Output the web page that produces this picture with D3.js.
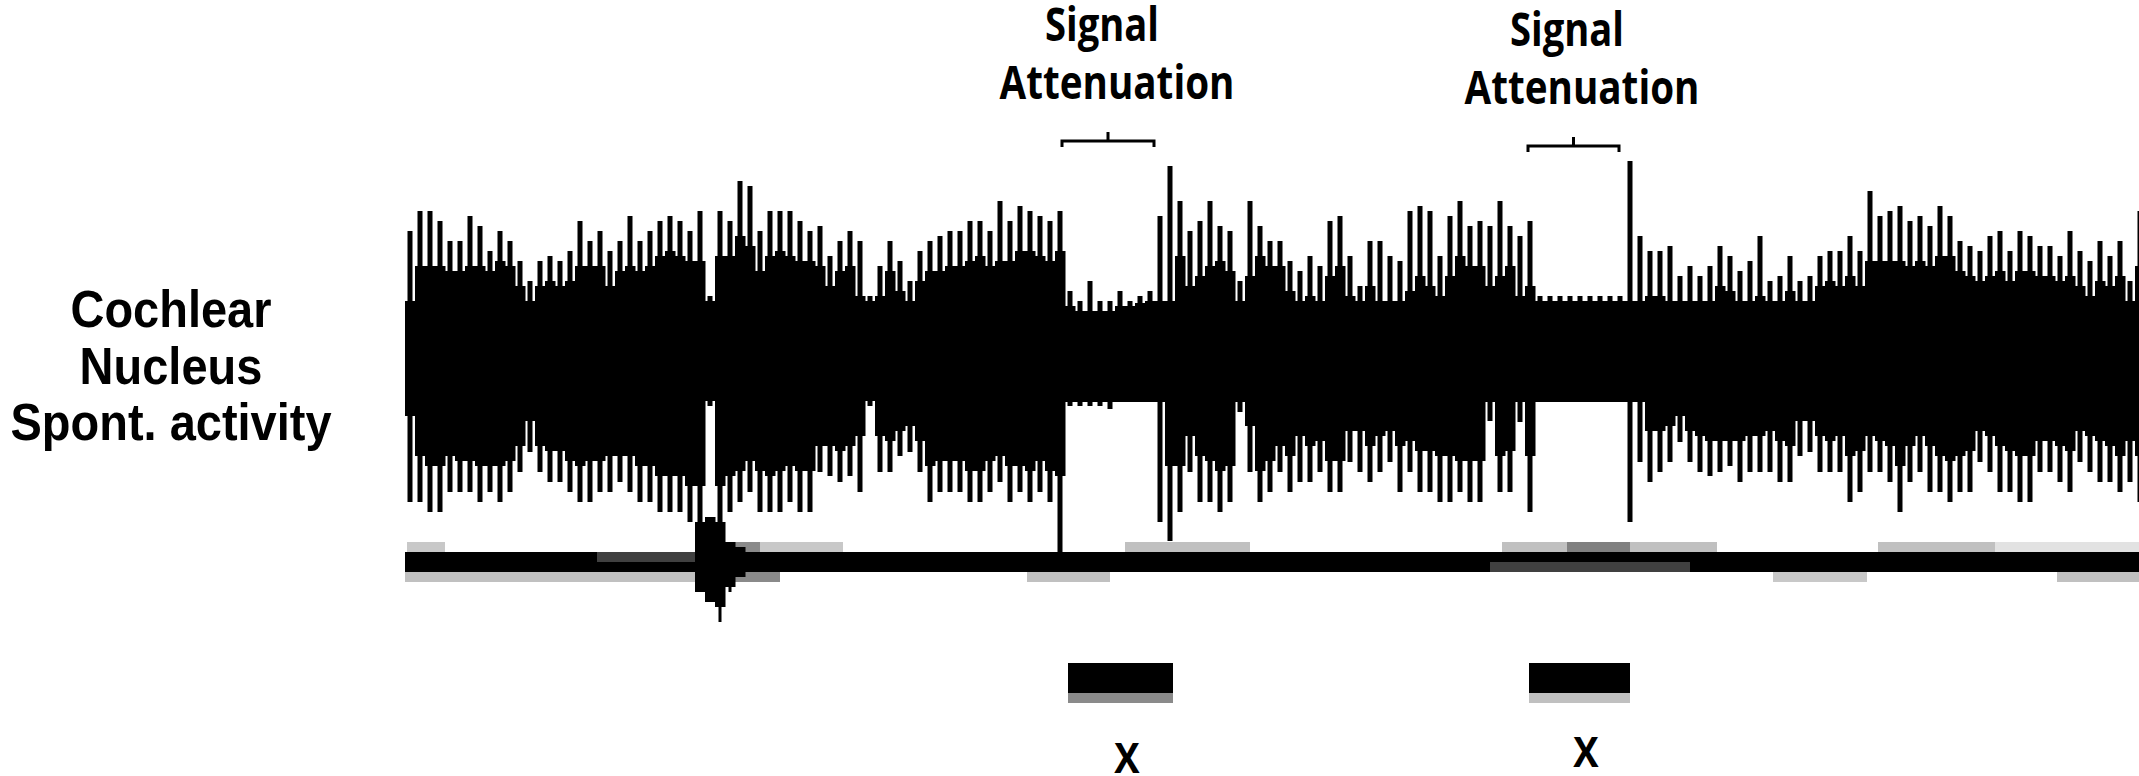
<!DOCTYPE html>
<html>
<head>
<meta charset="utf-8">
<script src="https://cdn.jsdelivr.net/npm/d3@7/dist/d3.min.js"></script>
<style>
body { margin: 0; background: #fff; overflow: hidden; }
</style>
</head>
<body>
<div id="trace"></div>
<script>
// channel 1 envelope, one value per 10px column (amplitude from baseline)
const upPeak = [
120,140,140,130,110,110,135,125,100,120, 110,90,70,90,95,90,100,130,110,120, 100,110,135,110,120,130,135,130,120,140, 55,140,130,170,165,
120,140,140,140,130,120,125,95,110,120, 110,55,85,110,90,70,100,110,115,120, 120,130,130,120,150,130,145,140,135,130, 140,60,50,70,50,
50,60,50,55,60,135,185,150,120,130, 150,125,120,70,150,125,110,110,90,80, 95,85,130,135,95,65,110,110,95,90, 140,145,140,95,135,
150,125,130,125,150,125,115,130,55,55, 55,55,55,55,55,55,55,190,115,100, 100,105,75,85,75,85,105,95,80,90, 115,70,75,95,70,
75,95,100,100,115,100,160,135,140,145, 130,135,125,145,135,110,105,100,115,120, 100,120,115,105,105,95,120,100,90,110, 95,110,70,140
];
const upBody = [
50,85,85,85,80,80,85,85,80,90, 85,65,50,65,70,65,70,85,85,85, 65,80,85,80,85,95,100,95,90,90, 50,95,95,115,105,
80,95,100,95,90,90,85,65,80,85, 55,50,55,80,60,50,70,80,80,85, 85,90,95,85,90,90,100,100,95,90, 100,45,40,40,40,
40,45,45,48,50,50,50,95,65,75, 85,90,80,50,75,95,85,85,60,50, 55,50,75,85,55,50,65,50,50,50, 60,75,65,55,75,
95,85,85,65,75,85,55,65,50,50, 50,50,50,50,50,50,50,50,50,55, 55,50,50,50,50,50,65,60,50,50, 55,50,50,60,50,
50,65,70,65,75,65,90,90,90,90, 85,90,85,95,95,80,75,70,75,80, 70,80,80,75,75,70,75,65,55,70, 65,75,50,85
];
const loBody = [
-65,-105,-115,-115,-105,-110,-110,-115,-115,-115, -110,-95,-70,-95,-100,-100,-110,-115,-110,-110, -105,-105,-105,-115,-115,-125,-125,-125,-135,-135, -50,-135,-125,-120,-110,
-120,-125,-120,-115,-120,-120,-95,-95,-100,-95, -85,-50,-85,-90,-80,-75,-90,-115,-110,-110, -110,-120,-120,-110,-105,-115,-115,-120,-110,-120, -125,-51,-51,-51,-51,
-51,-51,-51,-51,-51,-51,-115,-115,-85,-105, -110,-120,-115,-51,-75,-120,-110,-95,-105,-85, -95,-90,-110,-110,-80,-80,-95,-85,-80,-95, -90,-100,-100,-105,-105,
-110,-110,-110,-51,-105,-100,-51,-105,-51,-51, -51,-51,-51,-51,-51,-51,-51,-51,-51,-80, -80,-75,-65,-80,-85,-90,-90,-90,-90,-85, -85,-80,-90,-95,-70,
-70,-85,-90,-85,-105,-100,-85,-90,-95,-115, -95,-85,-95,-105,-110,-105,-100,-80,-85,-95, -100,-105,-105,-90,-90,-95,-100,-80,-85,-90, -95,-105,-90,-105
];
const loPeak = [
-151,-151,-161,-161,-141,-141,-141,-151,-141,-151, -141,-121,-101,-121,-131,-131,-141,-151,-151,-141, -141,-131,-141,-151,-151,-161,-161,-161,-171,-171, -55,-171,-161,-151,-141,
-161,-161,-161,-151,-161,-161,-121,-125,-131,-125, -141,-55,-121,-121,-105,-101,-121,-151,-141,-141, -141,-151,-151,-141,-131,-151,-141,-151,-141,-151, -201,-55,-55,-55,-55,
-58,-51,-51,-51,-51,-171,-190,-161,-121,-151, -151,-161,-151,-61,-121,-151,-141,-121,-141,-131, -131,-121,-141,-141,-111,-121,-131,-121,-111,-141, -121,-141,-141,-151,-151,
-141,-151,-151,-70,-141,-141,-71,-161,-51,-51, -51,-51,-51,-51,-51,-51,-51,-171,-111,-131, -121,-111,-91,-111,-121,-125,-121,-115,-131,-121, -121,-121,-131,-131,-105,
-101,-121,-121,-121,-151,-141,-121,-121,-131,-161, -131,-121,-141,-141,-151,-141,-141,-111,-121,-141, -141,-151,-151,-121,-121,-131,-141,-111,-121,-131, -131,-141,-131,-151
];

// channel 2: flat band plus one artifact
const ch2Half = 10;
const ch2SpikeIdx = [29, 30, 31, 32, 33];
const ch2SpikeTop = [40, 45, 40, 20, 15];
const ch2SpikeBot = [-30, -40, -45, -25, -15];
const ch2SpikeTail = [-30, -40, -60, -30, -15];

// channel 2 grey smear segments (column units)
const shadeStart = [0.2, 32, 35.5, 72, 109.7, 116.2, 122.5, 147.3, 159, 0, 32, 62.2, 136.8, 165.2, 19.2, 108.5];
const shadeEnd   = [4.0, 35.5, 43.8, 84.5, 116.2, 122.5, 131.2, 159, 174, 29.2, 37.5, 70.5, 146.2, 174, 29.2, 128.5];
const shadeRow   = ['above','above','above','above','above','above','above','above','above','below','below','below','below','below','upper','lower'];
const shadeTone  = ['#c8c8c8','#8a8a8a','#c8c8c8','#c0c0c0','#c0c0c0','#808080','#c0c0c0','#c0c0c0','#e2e2e2','#c0c0c0','#8a8a8a','#c0c0c0','#c8c8c8','#c0c0c0','#404040','#404040'];

// stimulus markers, attenuation brackets and labels (column units)
const stimOn = [66.3, 112.4];
const stimOff = [76.8, 122.5];
const stimShade = ['#8a8a8a', '#c0c0c0'];
const bracketStart = [65.7, 112.3];
const bracketEnd = [74.9, 121.4];
const labelCenter = [71.2, 117.7];
const markCenter = [72.2, 118.1];
const sideLabel = ['Cochlear', 'Nucleus', 'Spont. activity'];

const c_width = 2139;
const c_height = 776;
const calibriLike = '"Open Sans", "Noto Sans", sans-serif';
const arialLike = '"Liberation Sans", Arial, sans-serif';

var svg = d3.select('#trace')
            .append('svg')
            .attr('width', c_width)
            .attr('height', c_height);

var xScale = d3.scaleLinear()
        .domain([0, upPeak.length])
        .range([405, 405 + 10 * upPeak.length]);
var y1 = d3.scaleLinear().domain([-200, 200]).range([551, 151]);
var y2 = d3.scaleLinear().domain([-50, 50]).range([612, 512]);
const colW = xScale(1) - xScale(0);
const spikeW = 5;

// channel 2 base + smears
svg.selectAll('.shade')
    .data(shadeStart)
    .enter()
    .append('rect')
    .attr('class', 'shade')
    .attr('x', function(d){ return xScale(d); })
    .attr('width', function(d, i){ return xScale(shadeEnd[i]) - xScale(d); })
    .attr('y', function(d, i){
        var r = shadeRow[i];
        return r == 'above' ? y2(ch2Half * 2) : r == 'upper' ? y2(ch2Half) : r == 'lower' ? y2(0) : y2(-ch2Half);
    })
    .attr('height', y2(0) - y2(ch2Half))
    .attr('fill', function(d, i){ return shadeTone[i]; });

svg.append('rect')
    .attr('x', xScale(0))
    .attr('width', xScale(upPeak.length) - xScale(0))
    .attr('y', y2(ch2Half))
    .attr('height', y2(-ch2Half) - y2(ch2Half))
    .attr('fill', '#000');

// inner dark smears sit on top of the band
svg.selectAll('.shadeIn')
    .data(shadeStart.map(function(d, i){ return i; }).filter(function(i){ return shadeRow[i] == 'upper' || shadeRow[i] == 'lower'; }))
    .enter()
    .append('rect')
    .attr('x', function(i){ return xScale(shadeStart[i]); })
    .attr('width', function(i){ return xScale(shadeEnd[i]) - xScale(shadeStart[i]); })
    .attr('y', function(i){ return shadeRow[i] == 'upper' ? y2(ch2Half) : y2(0); })
    .attr('height', y2(0) - y2(ch2Half))
    .attr('fill', function(i){ return shadeTone[i]; });

svg.selectAll('.ch2spike')
    .data(ch2SpikeIdx)
    .enter()
    .append('rect')
    .attr('x', function(d){ return xScale(d); })
    .attr('width', colW + 0.5)
    .attr('y', function(d, i){ return y2(ch2SpikeTop[i]); })
    .attr('height', function(d, i){ return y2(ch2SpikeBot[i]) - y2(ch2SpikeTop[i]); })
    .attr('fill', '#000');

svg.selectAll('.ch2tail')
    .data(ch2SpikeIdx)
    .enter()
    .append('rect')
    .attr('x', function(d){ return xScale(d + 0.5) - 1.5; })
    .attr('width', 3)
    .attr('y', function(d, i){ return y2(ch2SpikeBot[i]); })
    .attr('height', function(d, i){ return y2(ch2SpikeTail[i]) - y2(ch2SpikeBot[i]); })
    .attr('fill', '#000');

// channel 1: dense body
svg.selectAll('.body')
    .data(upBody)
    .enter()
    .append('rect')
    .attr('class', 'body')
    .attr('x', function(d, i){ return xScale(i); })
    .attr('width', colW + 0.5)
    .attr('y', function(d){ return y1(d); })
    .attr('height', function(d, i){ return y1(loBody[i]) - y1(d); })
    .attr('fill', '#000');

// channel 1: single spikes above and below the body
svg.selectAll('.upSpike')
    .data(upPeak)
    .enter()
    .append('rect')
    .attr('x', function(d, i){ return xScale(i + 0.5) - spikeW / 2; })
    .attr('width', spikeW)
    .attr('y', function(d){ return y1(d); })
    .attr('height', function(d, i){ return Math.max(0, y1(upBody[i]) - y1(d)); })
    .attr('fill', '#000');

svg.selectAll('.loSpike')
    .data(loPeak)
    .enter()
    .append('rect')
    .attr('x', function(d, i){ return xScale(i + 0.5) - spikeW / 2; })
    .attr('width', spikeW)
    .attr('y', function(d, i){ return y1(loBody[i]); })
    .attr('height', function(d, i){ return Math.max(0, y1(d) - y1(loBody[i])); })
    .attr('fill', '#000');

// stimulus bars
svg.selectAll('.stimShade')
    .data(stimOn)
    .enter()
    .append('rect')
    .attr('x', function(d){ return xScale(d); })
    .attr('width', function(d, i){ return xScale(stimOff[i]) - xScale(d); })
    .attr('y', 693)
    .attr('height', 10)
    .attr('fill', function(d, i){ return stimShade[i]; });

svg.selectAll('.stim')
    .data(stimOn)
    .enter()
    .append('rect')
    .attr('x', function(d){ return xScale(d); })
    .attr('width', function(d, i){ return xScale(stimOff[i]) - xScale(d); })
    .attr('y', 663)
    .attr('height', 30)
    .attr('fill', '#000');

// brackets
const bracketY = [141, 146];
svg.selectAll('.bracket')
    .data(bracketStart)
    .enter()
    .append('path')
    .attr('d', function(d, i){
        var a = xScale(d), b = xScale(bracketEnd[i]), m = (a + b) / 2, y = bracketY[i];
        return 'M' + a + ',' + (y + 6) + 'L' + a + ',' + y + 'L' + b + ',' + y + 'L' + b + ',' + (y + 6)
             + 'M' + m + ',' + y + 'L' + m + ',' + (y - 9);
    })
    .attr('fill', 'none')
    .attr('stroke', '#000')
    .attr('stroke-width', 3);

// labels
function fitText(sel, target){
    var len = sel.node().getComputedTextLength();
    var fs = parseFloat(sel.attr('font-size'));
    sel.attr('font-size', fs * target / len);
}

const labelBase = [[41, 99], [46, 104]];
labelCenter.forEach(function(c, i){
    var cx = xScale(c);
    var g = svg.append('g');
    var t1 = g.append('text')
        .text('Signal')
        .attr('text-anchor', 'middle')
        .attr('font-family', calibriLike)
        .attr('font-weight', 700)
        .attr('font-size', 40)
        .attr('transform', 'translate(' + (cx - 15) + ',' + labelBase[i][0] + ') scale(1,1.2)');
    fitText(t1, 114);
    var t2 = g.append('text')
        .text('Attenuation')
        .attr('text-anchor', 'middle')
        .attr('font-family', calibriLike)
        .attr('font-weight', 700)
        .attr('font-size', 40)
        .attr('transform', 'translate(' + cx + ',' + labelBase[i][1] + ') scale(1,1.2)');
    fitText(t2, 235);
});

const markBase = [773, 767];
svg.selectAll('.mark')
    .data(markCenter)
    .enter()
    .append('text')
    .text('X')
    .attr('text-anchor', 'middle')
    .attr('font-family', calibriLike)
    .attr('font-weight', 700)
    .attr('font-size', 38)
    .attr('transform', function(d, i){ return 'translate(' + xScale(d) + ',' + markBase[i] + ') scale(1,1.1)'; });

const sideBase = [327, 384, 440];
svg.selectAll('.side')
    .data(sideLabel)
    .enter()
    .append('text')
    .text(function(d){ return d; })
    .attr('text-anchor', 'middle')
    .attr('font-family', arialLike)
    .attr('font-weight', 700)
    .attr('font-size', 47)
    .attr('transform', function(d, i){ return 'translate(171,' + sideBase[i] + ') scale(1,1.12)'; });
</script>
</body>
</html>
